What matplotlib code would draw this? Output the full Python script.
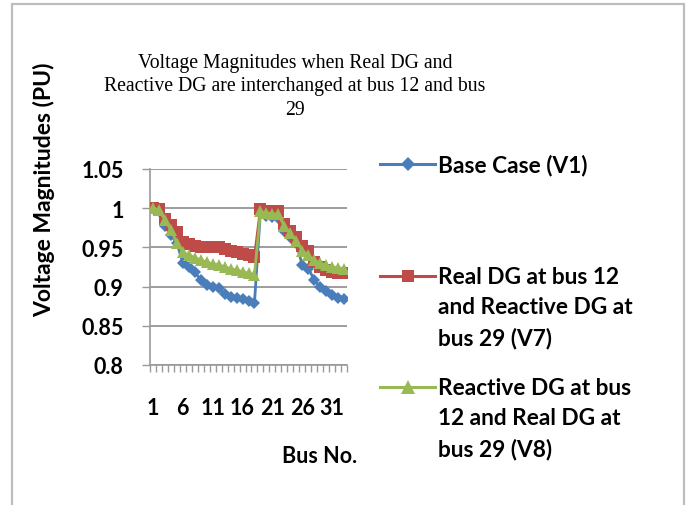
import matplotlib
matplotlib.use("Agg")
import matplotlib.pyplot as plt
from matplotlib.lines import Line2D
from matplotlib.patches import Rectangle
import numpy as np

# bus numbers and voltage magnitudes (pu)
bus = list(range(1, 34))
v1 = [1.000, 0.996, 0.977, 0.966, 0.956, 0.930, 0.925, 0.918, 0.909, 0.902, 0.900,
      0.898, 0.890, 0.887, 0.885, 0.884, 0.881, 0.879, 0.996, 0.990, 0.989, 0.988,
      0.971, 0.963, 0.955, 0.928, 0.923, 0.909, 0.899, 0.894, 0.889, 0.886, 0.884]
v7 = [1.000, 0.999, 0.986, 0.978, 0.970, 0.957, 0.954, 0.952, 0.951, 0.951, 0.951,
      0.951, 0.948, 0.946, 0.944, 0.942, 0.940, 0.938, 0.999, 0.997, 0.997, 0.996,
      0.980, 0.971, 0.963, 0.952, 0.946, 0.932, 0.925, 0.921, 0.918, 0.917, 0.917]
v8 = [1.000, 0.998, 0.985, 0.972, 0.956, 0.944, 0.940, 0.937, 0.934, 0.931, 0.929,
      0.928, 0.925, 0.923, 0.921, 0.919, 0.917, 0.915, 0.996, 0.994, 0.993, 0.992,
      0.977, 0.968, 0.958, 0.946, 0.940, 0.934, 0.930, 0.927, 0.925, 0.924, 0.923]

labels = ["Base Case (V1)",
          "Real DG at bus 12\nand Reactive DG at\nbus 29 (V7)",
          "Reactive DG at bus\n12 and Real DG at\nbus 29 (V8)"]
yticks = [0.8, 0.85, 0.9, 0.95, 1.0, 1.05]
ytick_labels = ["0.8", "0.85", "0.9", "0.95", "1", "1.05"]

W, H = 691, 506
fig = plt.figure(figsize=(W / 100, H / 100), dpi=100)
font = "Lato"

# chart area border
fig.add_artist(Rectangle((12 / W, -0.05), 672 / W, 1.05 - 5 / H, transform=fig.transFigure,
                         fill=False, edgecolor="#bdbdbd", linewidth=1.6))

ax = fig.add_axes([150 / W, 1 - 366 / H, 197 / W, 196 / H])

styles = [dict(color="#4a7ebb", marker="D", markersize=6, zorder=3),
          dict(color="#be4b48", marker="s", markersize=8, zorder=4),
          dict(color="#98b954", marker="^", markersize=9, zorder=5)]
for vals, st in zip([v1, v7, v8], styles):
    ax.plot(bus, vals, linewidth=2, markeredgewidth=0, **st)

ax.set_xlim(0.5, 33.5)
ax.set_ylim(0.8, 1.05)
ax.set_yticks(yticks)
ax.set_yticklabels(ytick_labels, fontsize=15.5, family=font, fontweight="bold")
ax.set_xticks(bus[::5])
ax.set_xticklabels([str(b) for b in bus[::5]], fontsize=15.5, family=font, fontweight="bold")
ax.set_xticks(np.arange(0.5, 34, 1), minor=True)
ax.tick_params(axis="x", which="major", length=0, pad=23)
ax.tick_params(axis="x", which="minor", length=5, width=1, color="#999999", direction="out")
ax.tick_params(axis="y", length=6, width=1, color="#999999", pad=13)
ax.tick_params(axis="y", which="minor", length=0)

ax.grid(axis="y", color="#8c8c8c", linewidth=1.2)
ax.set_axisbelow(True)
for s in ["top", "right"]:
    ax.spines[s].set_visible(False)
for s in ["left", "bottom"]:
    ax.spines[s].set_color("#999999")
    ax.spines[s].set_linewidth(1.2)

fig.text(295 / W, 1 - 87 / H,
         "Voltage Magnitudes when Real DG and\nReactive DG are interchanged at bus 12 and bus\n29",
         ha="center", va="center", fontsize=14.2, family="Liberation Serif", linespacing=1.3)
fig.text(44 / W, 1 - 190 / H, "Voltage Magnitudes (PU)", rotation=90, ha="center", va="center",
         fontsize=16.5, fontweight="bold", family=font)
fig.text(320 / W, 1 - 457 / H, "Bus No.", ha="center", va="center",
         fontsize=15.5, fontweight="bold", family=font)

# legend drawn on the right
entry_y = [165, 277, 388]
for lab, st, yy in zip(labels, styles, entry_y):
    fy = 1 - yy / H
    fig.add_artist(Line2D([380 / W, 435 / W], [fy, fy], transform=fig.transFigure,
                          color=st["color"], linewidth=2.2))
    fig.add_artist(Line2D([407.5 / W], [fy], transform=fig.transFigure, color=st["color"],
                          marker=st["marker"], markersize=st["markersize"] + 1,
                          markeredgewidth=0, linestyle="none"))
    fig.text(438 / W, fy + 10 / H, lab, ha="left", va="top", fontsize=16.3,
             family=font, fontweight="bold", linespacing=1.55)

fig.savefig("out.png", dpi=100)
